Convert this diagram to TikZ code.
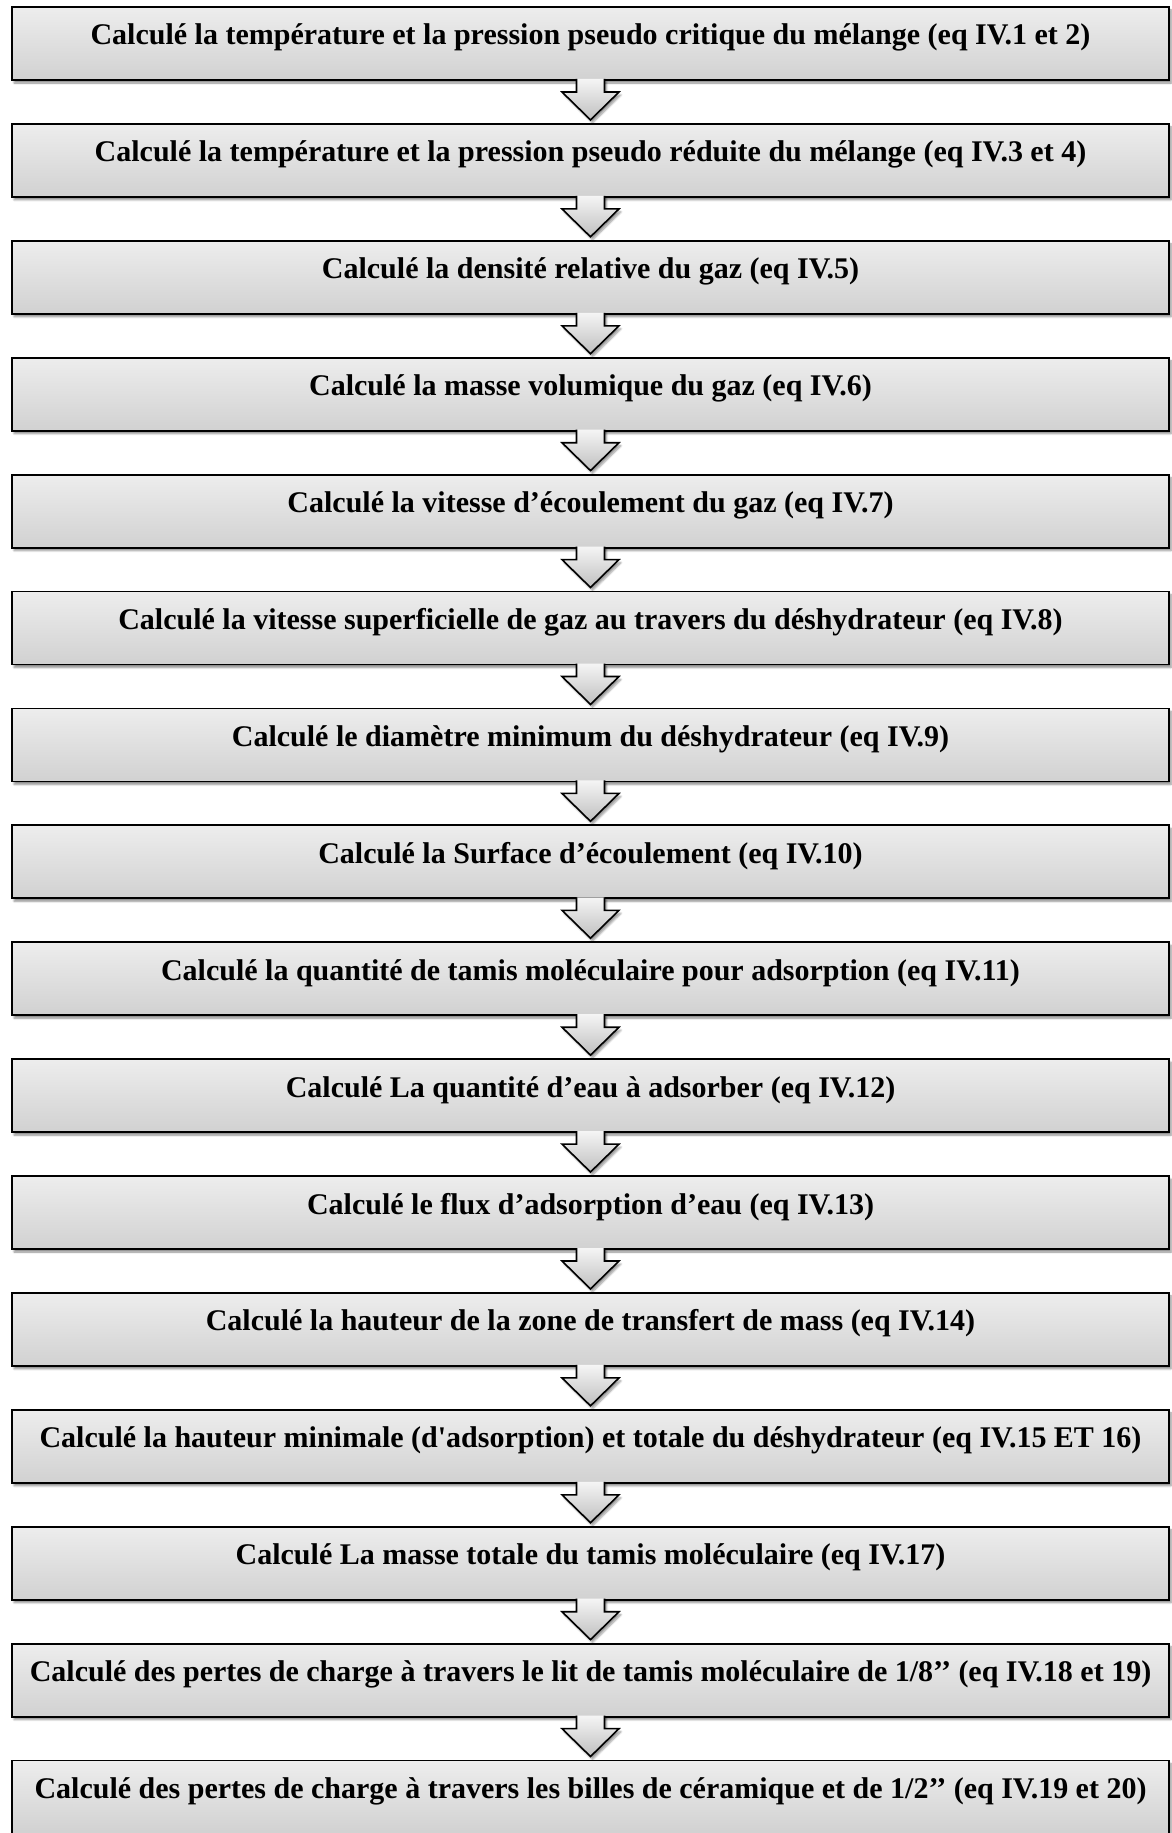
\documentclass[tikz,border=0pt]{standalone}
\usepackage{fontspec}
\setmainfont{Liberation Serif}
\usetikzlibrary{calc,shadows.blur}
\tikzset{
  stepbox/.style={draw=black, line width=1.8pt, outer sep=0pt,
    top color=gray!14, bottom color=gray!36,
    minimum width=1157pt, minimum height=73pt, inner sep=0pt,
    text height=38pt, text depth=35pt,
    font=\fontsize{30}{36}\selectfont\bfseries,
    blur shadow={shadow xshift=2pt, shadow yshift=-3pt, shadow blur steps=6, shadow opacity=45}},
  arrowfill/.style={top color=gray!8, bottom color=gray!50,
    blur shadow={shadow xshift=2pt, shadow yshift=-3pt, shadow blur steps=6, shadow opacity=40}},
  arrowline/.style={draw=black, line width=1.6pt, line join=miter}
}
\newcommand\flowarr[2]{%
  \path[arrowfill] ($(#1.south)+(-14,1)$) -- ++(0,-13) -- ++(-14.5,0) -- ($(#2.north)+(0,4)$)
     -- ($(#1.south)+(28.5,-12)$) -- ++(-14.5,0) -- ++(0,13) -- cycle;
  \draw[arrowline] ($(#1.south)+(-14,1)$) -- ++(0,-13) -- ++(-14.5,0) -- ($(#2.north)+(0,4)$)
     -- ($(#1.south)+(28.5,-12)$) -- ++(-14.5,0) -- ++(0,13);
}
\begin{document}
\begin{tikzpicture}[x=1pt,y=1pt]
\useasboundingbox (0,0) rectangle (1171,-1833);
\def\cx{590.5}
\node[stepbox] (b1) at (\cx,{-(7+0*116.9+36.5)}) {Calculé la température et la pression pseudo critique du mélange (eq IV.1 et 2)};
\node[stepbox] (b2) at (\cx,{-(7+1*116.9+36.5)}) {Calculé la température et la pression pseudo réduite du mélange (eq IV.3 et 4)};
\node[stepbox] (b3) at (\cx,{-(7+2*116.9+36.5)}) {Calculé la densité relative du gaz (eq IV.5)};
\node[stepbox] (b4) at (\cx,{-(7+3*116.9+36.5)}) {Calculé la masse volumique du gaz (eq IV.6)};
\node[stepbox] (b5) at (\cx,{-(7+4*116.9+36.5)}) {Calculé la vitesse d’écoulement du gaz (eq IV.7)};
\node[stepbox] (b6) at (\cx,{-(7+5*116.9+36.5)}) {Calculé la vitesse superficielle de gaz au travers du déshydrateur (eq IV.8)};
\node[stepbox] (b7) at (\cx,{-(7+6*116.9+36.5)}) {Calculé le diamètre minimum du déshydrateur (eq IV.9)};
\node[stepbox] (b8) at (\cx,{-(7+7*116.9+36.5)}) {Calculé la Surface d’écoulement (eq IV.10)};
\node[stepbox] (b9) at (\cx,{-(7+8*116.9+36.5)}) {Calculé la quantité de tamis moléculaire pour adsorption (eq IV.11)};
\node[stepbox] (b10) at (\cx,{-(7+9*116.9+36.5)}) {Calculé La quantité d’eau à adsorber (eq IV.12)};
\node[stepbox] (b11) at (\cx,{-(7+10*116.9+36.5)}) {Calculé le flux d’adsorption d’eau (eq IV.13)};
\node[stepbox] (b12) at (\cx,{-(7+11*116.9+36.5)}) {Calculé la hauteur de la zone de transfert de mass (eq IV.14)};
\node[stepbox] (b13) at (\cx,{-(7+12*116.9+36.5)}) {Calculé la hauteur minimale (d\textquotesingle adsorption) et totale du déshydrateur (eq IV.15 ET 16)};
\node[stepbox] (b14) at (\cx,{-(7+13*116.9+36.5)}) {Calculé La masse totale du tamis moléculaire (eq IV.17)};
\node[stepbox] (b15) at (\cx,{-(7+14*116.9+36.5)}) {Calculé des pertes de charge à travers le lit de tamis moléculaire de 1/8’’ (eq IV.18 et 19)};
\node[stepbox] (b16) at (\cx,{-(7+15*116.9+36.5)}) {Calculé des pertes de charge à travers les billes de céramique et de 1/2’’ (eq IV.19 et 20)};
\foreach \i [evaluate=\i as \j using int(\i+1)] in {1,...,15} {\flowarr{b\i}{b\j}}
\end{tikzpicture}
\end{document}
